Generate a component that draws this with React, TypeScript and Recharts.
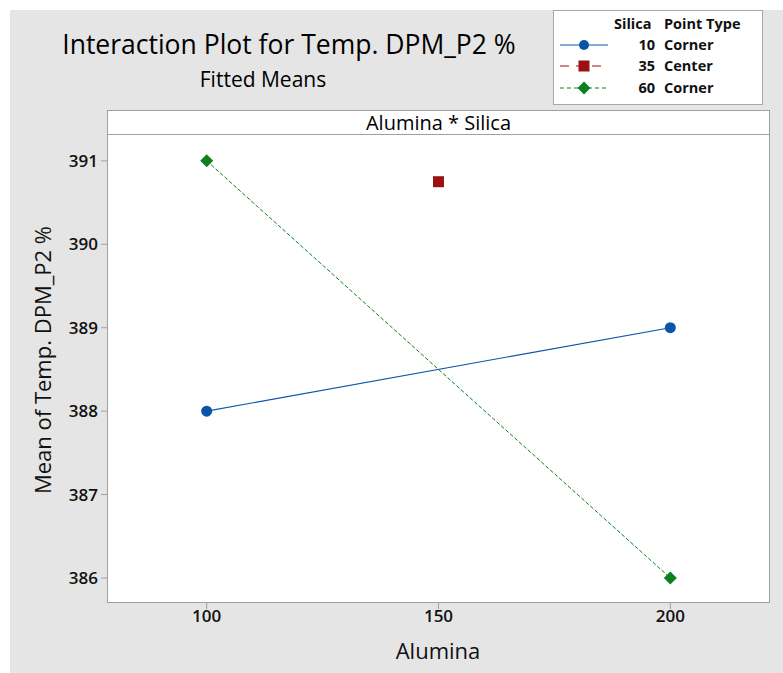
import React from "react";
import { ComposedChart, Scatter, XAxis, YAxis } from "recharts";

const aluminaTicks = [100, 150, 200];
const meanTicks = [386, 387, 388, 389, 390, 391];

const silica10 = [
  { x: 100, y: 388 },
  { x: 200, y: 389 },
];
const silica35 = [{ x: 150, y: 390.75 }];
const silica60 = [
  { x: 100, y: 391 },
  { x: 200, y: 386 },
];

const BLUE = "#0a55a8";
const RED = "#9b1111";
const GREEN = "#0b8020";
const FONT = "'Open Sans', 'Noto Sans', sans-serif";

const Circle = (p: any) => <circle cx={p.cx} cy={p.cy} r={5.5} fill={BLUE} />;
const Square = (p: any) => (
  <rect x={p.cx - 5.5} y={p.cy - 5.5} width={11} height={11} fill={RED} />
);
const Diamond = (p: any) => (
  <polygon
    points={`${p.cx},${p.cy - 6.5} ${p.cx + 6.5},${p.cy} ${p.cx},${p.cy + 6.5} ${p.cx - 6.5},${p.cy}`}
    fill={GREEN}
  />
);

const LegendMark = ({ kind }: { kind: number }) => (
  <svg width={50} height={14} style={{ display: "block" }}>
    {kind === 0 && (
      <>
        <line x1={1} y1={7} x2={49} y2={7} stroke={BLUE} strokeWidth={1.2} />
        <circle cx={25} cy={7} r={5} fill={BLUE} />
      </>
    )}
    {kind === 1 && (
      <>
        <line x1={1} y1={7} x2={49} y2={7} stroke={RED} strokeWidth={1.2} strokeDasharray="9 7" />
        <rect x={19.5} y={1.5} width={11} height={11} fill={RED} />
      </>
    )}
    {kind === 2 && (
      <>
        <line x1={1} y1={7} x2={49} y2={7} stroke={GREEN} strokeWidth={1.2} strokeDasharray="4 3" />
        <polygon points="25,0.5 31.5,7 25,13.5 18.5,7" fill={GREEN} />
      </>
    )}
  </svg>
);

const legendRows = [
  { s: "10", t: "Corner", y: 45 },
  { s: "35", t: "Center", y: 66 },
  { s: "60", t: "Corner", y: 88 },
];

export default function App() {
  return (
    <div
      style={{
        position: "absolute",
        left: 0,
        top: 0,
        width: 783,
        height: 673,
        background: "#ffffff",
        fontFamily: FONT,
        overflow: "hidden",
      }}
    >
      <div style={{ position: "absolute", left: 10, top: 10, width: 773, height: 663, background: "#e5e5e5" }} />
      {/* plot panel */}
      <div
        style={{
          position: "absolute",
          left: 107,
          top: 110,
          width: 663,
          height: 493,
          background: "#fff",
          border: "1px solid #a0a0a0",
          boxSizing: "border-box",
        }}
      />
      <div style={{ position: "absolute", left: 107, top: 134, width: 663, height: 1, background: "#a0a0a0" }} />
      <div
        style={{
          position: "absolute",
          left: 107,
          top: 110,
          width: 663,
          height: 24,
          textAlign: "center",
          fontSize: 20,
          lineHeight: "25px",
          color: "#000",
        }}
      >
        Alumina * Silica
      </div>
      {/* titles */}
      <div style={{ position: "absolute", left: 0, width: 578, top: 26, textAlign: "center", fontSize: 26.5, lineHeight: "36px", color: "#000" }}>
        Interaction Plot for Temp. DPM_P2 %
      </div>
      <div style={{ position: "absolute", left: 0, width: 526, top: 64, textAlign: "center", fontSize: 21, lineHeight: "30px", color: "#000" }}>
        Fitted Means
      </div>
      {/* legend */}
      <div
        style={{
          position: "absolute",
          left: 553,
          top: 10,
          width: 210,
          height: 95,
          background: "#fff",
          border: "1px solid #a8a8a8",
          boxSizing: "border-box",
        }}
      />
      <div style={{ position: "absolute", left: 614, top: 14, fontSize: 14.5, fontWeight: 700, color: "#111", lineHeight: "20px", whiteSpace: "nowrap" }}>
        Silica
      </div>
      <div style={{ position: "absolute", left: 664, top: 14, fontSize: 14.5, fontWeight: 700, color: "#111", lineHeight: "20px", whiteSpace: "nowrap" }}>
        Point Type
      </div>
      {legendRows.map((r, i) => (
        <React.Fragment key={r.s}>
          <div style={{ position: "absolute", left: 559, top: r.y - 7 }}>
            <LegendMark kind={i} />
          </div>
          <div style={{ position: "absolute", left: 615, width: 40, top: r.y - 10, textAlign: "right", fontSize: 14.5, fontWeight: 700, color: "#111", lineHeight: "20px" }}>
            {r.s}
          </div>
          <div style={{ position: "absolute", left: 664, top: r.y - 10, fontSize: 14.5, fontWeight: 700, color: "#111", lineHeight: "20px" }}>
            {r.t}
          </div>
        </React.Fragment>
      ))}
      {/* axis titles */}
      <div
        style={{
          position: "absolute",
          left: 42,
          top: 360,
          transform: "translate(-50%, -50%) rotate(-90deg)",
          fontSize: 22,
          color: "#111",
          whiteSpace: "nowrap",
        }}
      >
        Mean of Temp. DPM_P2 %
      </div>
      <div style={{ position: "absolute", left: 338, width: 200, top: 635, textAlign: "center", fontSize: 22, lineHeight: "30px", color: "#111" }}>
        Alumina
      </div>
      <div style={{ position: "absolute", left: 0, top: 0 }}>
        <ComposedChart width={783} height={673} margin={{ top: 135, right: 13, bottom: 40, left: 47 }}>
          <XAxis
            type="number"
            dataKey="x"
            domain={[78.5, 221.5]}
            ticks={aluminaTicks}
            axisLine={false}
            tickSize={6}
            tickLine={{ stroke: "#a0a0a0" }}
            tick={{ fontSize: 17, fill: "#111", fontFamily: FONT, fontWeight: 600 }}
            tickMargin={1}
            height={30}
            allowDataOverflow
          />
          <YAxis
            type="number"
            dataKey="y"
            domain={[385.7, 391.31]}
            ticks={meanTicks}
            axisLine={false}
            tickSize={6}
            tickLine={{ stroke: "#a0a0a0" }}
            tick={{ fontSize: 17, fill: "#111", fontFamily: FONT, fontWeight: 600 }}
            tickMargin={3}
            width={60}
            allowDataOverflow
          />
          <Scatter
            data={silica10}
            line={{ stroke: BLUE, strokeWidth: 1.1 }}
            lineType="joint"
            shape={Circle}
            fill={BLUE}
            isAnimationActive={false}
          />
          <Scatter
            data={silica60}
            line={{ stroke: GREEN, strokeWidth: 1, strokeDasharray: "4 2" }}
            lineType="joint"
            shape={Diamond}
            fill={GREEN}
            isAnimationActive={false}
          />
          <Scatter data={silica35} shape={Square} fill={RED} isAnimationActive={false} />
        </ComposedChart>
      </div>
    </div>
  );
}
